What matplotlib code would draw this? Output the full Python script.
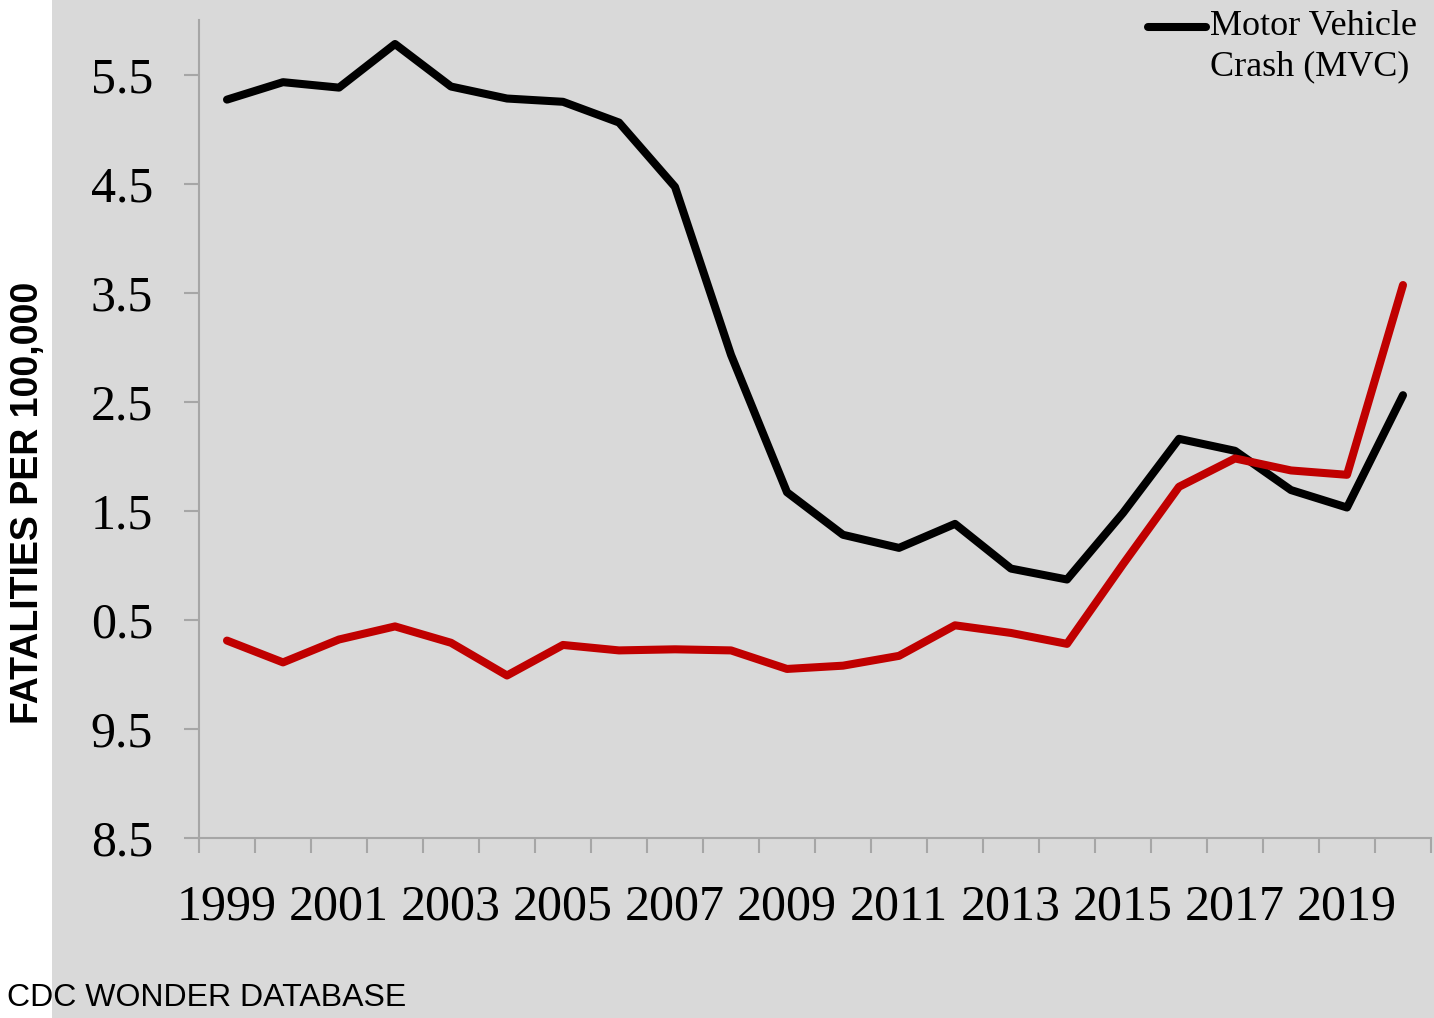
import matplotlib
matplotlib.use('Agg')
import matplotlib.pyplot as plt
from matplotlib.patches import Rectangle
import numpy as np

#region Data

years = list(range(1999, 2021))

mvc_rate = [15.27, 15.43, 15.38, 15.78, 15.39, 15.28, 15.25, 15.06, 14.47, 12.93, 11.67,
            11.28, 11.16, 11.38, 10.97, 10.87, 11.48, 12.16, 12.05, 11.69, 11.53, 12.56]

other_rate = [10.31, 10.11, 10.32, 10.44, 10.29, 9.99, 10.27, 10.22, 10.23, 10.22, 10.05,
              10.08, 10.17, 10.45, 10.38, 10.28, 11.01, 11.72, 11.98, 11.87, 11.83, 13.57]

ytick_values = [15.5, 14.5, 13.5, 12.5, 11.5, 10.5, 9.5, 8.5]
ytick_labels = ['5.5', '4.5', '3.5', '2.5', '1.5', '0.5', '9.5', '8.5']

xtick_labels = [str(y) if (y - 1999) % 2 == 0 else '' for y in years]

#endregion

#region Figure

bg = '#d9d9d9'
axis_gray = '#a6a6a6'
serif = ['Liberation Serif', 'DejaVu Serif']

fig = plt.figure(figsize=(14.34, 10.18), dpi=100)
fig.patch.set_facecolor('white')
fig.patches.append(Rectangle((52 / 1434, 0), 1 - 52 / 1434, 1, transform=fig.transFigure,
                             facecolor=bg, edgecolor='none', zorder=-5))

ax = fig.add_axes([199 / 1434, (1018 - 838) / 1018, (1431 - 199) / 1434, (838 - 20) / 1018])
ax.set_facecolor(bg)

x = np.arange(len(years))
line_kw = dict(lw=5.8, solid_capstyle='round', solid_joinstyle='round')
ax.plot(x, mvc_rate, color='black', label='Motor Vehicle\nCrash (MVC)', **line_kw)
ax.plot(x, other_rate, color='#c00000', **line_kw)

ax.set_xlim(-0.5, len(years) - 0.5)
ax.set_ylim(8.5, 16.0)

ax.set_yticks(ytick_values)
ax.set_yticklabels(ytick_labels, fontsize=36, family=serif)
ax.set_xticks(x)
ax.set_xticklabels(xtick_labels, fontsize=36, family=serif)
ax.set_xticks(np.arange(-0.5, len(years), 1), minor=True)

ax.tick_params(axis='x', which='major', length=0, pad=33)
ax.tick_params(axis='x', which='minor', length=11, width=1.5, color=axis_gray, direction='out')
ax.tick_params(axis='y', length=11, width=1.5, color=axis_gray, direction='out', pad=22)

for s in ['top', 'right']:
    ax.spines[s].set_visible(False)
for s in ['left', 'bottom']:
    ax.spines[s].set_color(axis_gray)
    ax.spines[s].set_linewidth(1.5)

leg = ax.legend(loc='upper right', bbox_to_anchor=(1.0, 1.03), frameon=False,
                prop={'family': serif, 'size': 26}, handlelength=1.6, handletextpad=0.1,
                borderaxespad=0)
leg.get_texts()[0].set_linespacing(1.3)
# key line sits beside the first line of the label, not centred on both
hl = leg.legend_handles[0]
hl.set_ydata(np.asarray(hl.get_ydata()) + 14)
hl.set_solid_capstyle('round')

fig.text(28 / 1434, 1 - 503 / 1018, 'FATALITIES PER 100,000', rotation=90, ha='center', va='center',
         fontsize=27, fontweight='bold', family=['Liberation Sans', 'DejaVu Sans'])
fig.text(7 / 1434, 1 - 998 / 1018, 'CDC WONDER DATABASE', ha='left', va='center',
         fontsize=23, family=['Liberation Sans', 'DejaVu Sans'])

fig.savefig('out.png', dpi=100, facecolor=fig.get_facecolor())

#endregion
